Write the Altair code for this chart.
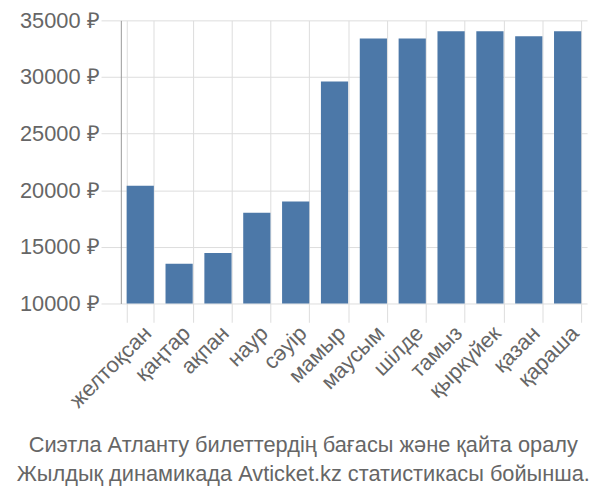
import altair as alt
import pandas as pd

months = ["желтоқсан", "қаңтар", "ақпан", "наур", "сәуір", "мамыр",
          "маусым", "шілде", "тамыз", "қыркүйек", "қазан", "қараша"]
prices = [20400, 13500, 14450, 18000, 19000, 29600,
          33400, 33400, 34050, 34050, 33600, 34050]
y_ticks = [10000, 15000, 20000, 25000, 30000, 35000]
title_lines = ["Сиэтла Атланту билеттердің бағасы және қайта оралу",
               "Жылдық динамикада Avticket.kz статистикасы бойынша."]

df = pd.DataFrame({"month": months, "price": prices})
font = "Liberation Sans"
text_color = "#666666"

chart = alt.Chart(df).mark_bar(color="#4c78a8").encode(
    x=alt.X("month:N", sort=months, title=None,
            scale=alt.Scale(paddingInner=0.3, paddingOuter=0.15),
            axis=alt.Axis(labelAngle=315, tickBand="extent", grid=True,
                          domain=False, tickSize=19, tickColor="#dddddd",
                          gridColor="#dddddd", labelFont=font, labelFontSize=22,
                          labelColor=text_color, labelPadding=0)),
    y=alt.Y("price:Q", title=None,
            scale=alt.Scale(domain=[10000, 35000], zero=False, nice=False),
            axis=alt.Axis(values=y_ticks, labelExpr="format(datum.value, 'd') + ' ₽'",
                          tickSize=20, tickColor="#dddddd", gridColor="#dddddd",
                          domainColor="#999999", labelFont=font, labelFontSize=22,
                          labelColor=text_color, labelPadding=2)),
    y2=alt.datum(10000),
).properties(
    width=471, height=286,
    title=alt.TitleParams(title_lines, orient="bottom", anchor="middle", frame="bounds",
                          fontSize=22, font=font, color=text_color, fontWeight="normal",
                          lineHeight=29, offset=24),
    autosize="none",
    padding={"left": 114, "top": 10, "right": 5, "bottom": 190},
).configure_view(stroke=None)

chart.save("out.html", embed_options={"renderer": "svg", "actions": False})
